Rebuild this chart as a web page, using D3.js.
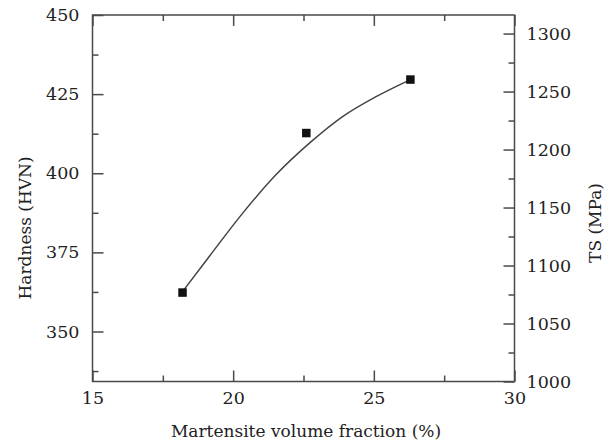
<!DOCTYPE html>
<html>
<head>
<meta charset="utf-8">
<script src="https://cdn.jsdelivr.net/npm/d3@7"></script>
<style>
  body { margin: 0; background: #fff; }
  .axis path, .axis line { stroke: #4a4a4a; stroke-width: 1.5; }
</style>
</head>
<body>
<div id="chart"></div>
<script>
// martensite volume fraction (%) vs hardness (HVN)
var fraction = [18.2, 22.6, 26.3];
var hardness = [362.3, 412.7, 429.6];

// fitted curve
var fitX = [18.2, 19.15, 20.34, 21.52, 22.71, 23.89, 25.08, 26.3];
var fitY = [362.6, 373.7, 387.4, 399.5, 409.5, 417.9, 424.2, 429.6];

var xTicks = [15, 20, 25, 30];
var xMinor = [17.5, 22.5, 27.5];
var hvTicks = [350, 375, 400, 425, 450];
var hvMinor = [337.5, 362.5, 387.5, 412.5, 437.5];
var tsTicks = [1000, 1050, 1100, 1150, 1200, 1250, 1300];
var tsMinor = [1025, 1075, 1125, 1175, 1225, 1275];

var FONT = "'DejaVu Serif', 'Liberation Serif', 'Noto Serif', serif";

var margin = { top: 15, right: 96.5, bottom: 59.5, left: 92.5 },
  width = 611 - margin.left - margin.right,
  height = 441 - margin.top - margin.bottom;

var svg = d3.select("#chart")
  .append("svg")
  .attr("width", 611)
  .attr("height", 441);

var g = svg.append("g")
  .attr("transform", "translate(" + margin.left + "," + margin.top + ")");

var xScale = d3.scaleLinear().domain([15, 30]).range([0, width]);
var yScale = d3.scaleLinear().domain([334.2, 450]).range([height, 0]);
var tsScale = d3.scaleLinear().domain([1000, 1316]).range([height, 0]);

// frame
g.append("rect")
  .attr("width", width)
  .attr("height", height)
  .attr("fill", "none")
  .attr("stroke", "#4a4a4a")
  .attr("stroke-width", 1.5);

function addAxis(axis, tx, ty) {
  var a = g.append("g").attr("class", "axis")
    .attr("transform", "translate(" + tx + "," + ty + ")")
    .call(axis)
    .attr("font-family", FONT)
    .attr("font-size", 17.5);
  a.select(".domain").remove();
  a.selectAll("text").attr("fill", "#222");
  return a;
}

// bottom
addAxis(d3.axisBottom(xScale).tickValues(xTicks).tickFormat(d3.format("d"))
  .tickSizeInner(-11).tickSizeOuter(0).tickPadding(10), 0, height);
addAxis(d3.axisBottom(xScale).tickValues(xMinor).tickFormat("")
  .tickSizeInner(-6).tickSizeOuter(0), 0, height);
// top
addAxis(d3.axisTop(xScale).tickValues(xTicks).tickFormat("")
  .tickSizeInner(-11).tickSizeOuter(0), 0, 0);
addAxis(d3.axisTop(xScale).tickValues(xMinor).tickFormat("")
  .tickSizeInner(-6).tickSizeOuter(0), 0, 0);
// left
addAxis(d3.axisLeft(yScale).tickValues(hvTicks).tickFormat(d3.format("d"))
  .tickSizeInner(-11).tickSizeOuter(0).tickPadding(13), 0, 0);
addAxis(d3.axisLeft(yScale).tickValues(hvMinor).tickFormat("")
  .tickSizeInner(-6).tickSizeOuter(0), 0, 0);
// right
addAxis(d3.axisRight(tsScale).tickValues(tsTicks).tickFormat(d3.format("d"))
  .tickSizeInner(-11).tickSizeOuter(0).tickPadding(12), width, 0);
addAxis(d3.axisRight(tsScale).tickValues(tsMinor).tickFormat("")
  .tickSizeInner(-6).tickSizeOuter(0), width, 0);

// fitted line
var line = d3.line()
  .x(function(d) { return xScale(d[0]); })
  .y(function(d) { return yScale(d[1]); })
  .curve(d3.curveMonotoneX);

g.append("path")
  .datum(d3.zip(fitX, fitY))
  .attr("fill", "none")
  .attr("stroke", "#444")
  .attr("stroke-width", 1.5)
  .attr("d", line);

// data points
var s = 8.5;
g.selectAll(".pt")
  .data(d3.zip(fraction, hardness))
  .join("rect")
  .attr("class", "pt")
  .attr("x", function(d) { return xScale(d[0]) - s / 2; })
  .attr("y", function(d) { return yScale(d[1]) - s / 2; })
  .attr("width", s)
  .attr("height", s)
  .attr("fill", "#111");

// axis titles
function title(tr, txt) {
  svg.append("text")
    .attr("transform", tr)
    .attr("text-anchor", "middle")
    .attr("font-family", FONT)
    .attr("font-size", 17)
    .attr("fill", "#222")
    .text(txt);
}
title("translate(306,437)", "Martensite volume fraction (%)");
title("translate(31,228) rotate(-90)", "Hardness (HVN)");
title("translate(601,223) rotate(-90)", "TS (MPa)");
</script>
</body>
</html>
